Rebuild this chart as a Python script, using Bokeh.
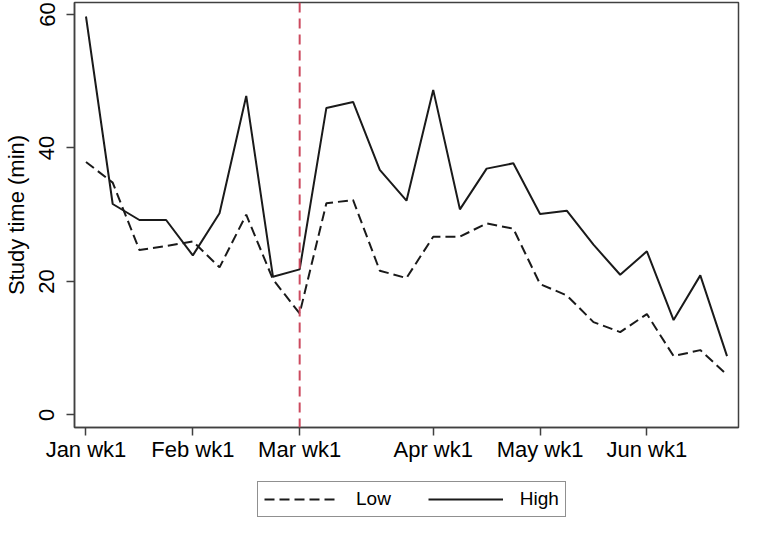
from bokeh.plotting import figure
from bokeh.layouts import column
from bokeh.models import Range1d, FixedTicker, Span, Legend, LegendItem
from bokeh.embed import file_html
from bokeh.resources import INLINE

# weekly average study time, weeks counted from Jan wk1
weeks = list(range(25))
high = [59.7, 31.6, 29.2, 29.2, 23.9, 30.2, 47.8, 20.7, 21.8, 46.0, 46.9, 36.7, 32.1,
        48.7, 30.8, 36.9, 37.7, 30.1, 30.6, 25.5, 21.0, 24.5, 14.2, 20.9, 8.8]
low = [37.9, 34.8, 24.7, 25.3, 26.0, 22.1, 30.0, 20.3, 15.2, 31.7, 32.2, 21.6, 20.5,
       26.7, 26.7, 28.7, 27.9, 19.6, 17.9, 13.9, 12.4, 15.1, 8.8, 9.7, 6.0]

tick_weeks = [0, 4, 8, 13, 17, 21]
tick_labels = ['Jan wk1', 'Feb wk1', 'Mar wk1', 'Apr wk1', 'May wk1', 'Jun wk1']
y_ticks = [0, 20, 40, 60]
break_week = 8

FONT = 'Liberation Sans'
INK = '#1a1a1a'

p = figure(width=741, height=480, output_backend='svg', toolbar_location=None,
           x_range=Range1d(-0.43, 24.43), y_range=Range1d(-1.9, 61.8),
           min_border_left=65, min_border_right=3, min_border_top=2, min_border_bottom=53)
p.background_fill_color = 'white'
p.border_fill_color = 'white'
p.outline_line_color = '#404040'
p.outline_line_width = 1.5
p.xgrid.visible = False
p.ygrid.visible = False

p.line(weeks, low, line_color=INK, line_width=2, line_dash='10 5')
p.line(weeks, high, line_color=INK, line_width=2)

p.add_layout(Span(location=break_week, dimension='height', line_color='#cc4a5f',
                  line_width=2, line_dash='10 6'))

p.xaxis.ticker = FixedTicker(ticks=tick_weeks)
p.xaxis.major_label_overrides = {w: l for w, l in zip(tick_weeks, tick_labels)}
p.yaxis.ticker = FixedTicker(ticks=y_ticks)
p.yaxis.major_label_orientation = 'vertical'
p.yaxis.axis_label = 'Study time (min)'

for ax in (p.xaxis, p.yaxis):
    ax.axis_line_color = '#404040'
    ax.axis_line_width = 1.5
    ax.major_tick_line_color = '#404040'
    ax.major_tick_line_width = 1.5
    ax.major_tick_in = 0
    ax.major_tick_out = 8
    ax.minor_tick_line_color = None
    ax.major_label_text_font = FONT
    ax.major_label_text_font_size = '22px'
    ax.major_label_text_color = 'black'
    ax.axis_label_text_font = FONT
    ax.axis_label_text_font_size = '22px'
    ax.axis_label_text_font_style = 'normal'
    ax.axis_label_text_color = 'black'
p.xaxis.major_label_standoff = 1
p.yaxis.major_label_standoff = 12
p.yaxis.axis_label_standoff = 8

# legend lives in a strip of its own under the chart
leg = figure(width=741, height=38, output_backend='svg', toolbar_location=None,
             x_range=Range1d(0, 1), y_range=Range1d(0, 1),
             x_axis_location=None, y_axis_location=None,
             min_border_left=0, min_border_right=0, min_border_top=0, min_border_bottom=0)
leg.grid.visible = False
leg.outline_line_color = None
nan = float('nan')
k_low = leg.line([nan], [nan], line_color=INK, line_width=2, line_dash='10 5')
k_high = leg.line([nan], [nan], line_color=INK, line_width=2)

legend = Legend(items=[LegendItem(label='Low', renderers=[k_low]),
                       LegendItem(label='High', renderers=[k_high])],
                orientation='horizontal', location=(183, 1))
legend.label_text_font = FONT
legend.label_text_font_size = '19px'
legend.label_text_color = 'black'
legend.glyph_width = 75
legend.glyph_height = 20
legend.label_standoff = 17
legend.spacing = 37
legend.padding = 6
legend.margin = 0
legend.border_line_color = '#222222'
legend.border_line_width = 1
leg.add_layout(legend)

open('out.html', 'w').write(file_html(column(p, leg), INLINE))
